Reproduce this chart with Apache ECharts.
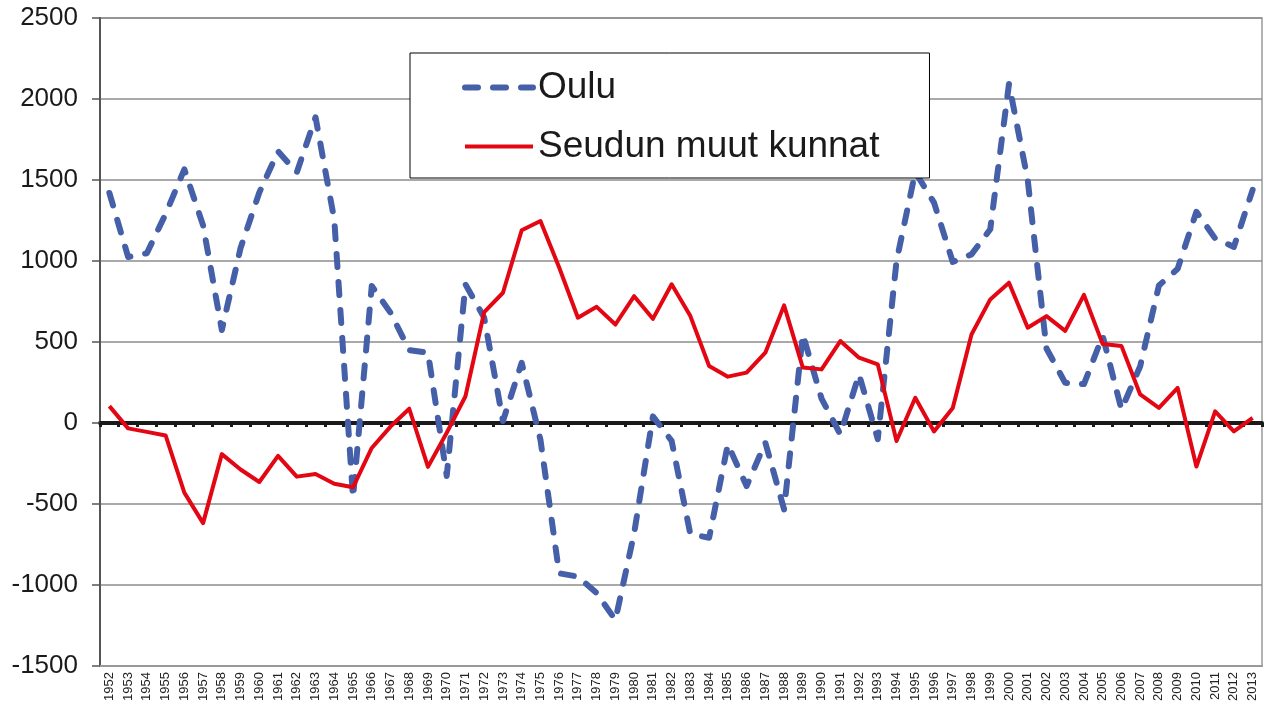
<!DOCTYPE html>
<html style="height: 100%">
<head>
    <meta charset="UTF-8">
    <title>Oulu ja seudun muut kunnat</title>
    <script src="https://cdn.jsdelivr.net/npm/echarts@6/dist/echarts.min.js"></script>
</head>
<body style="height: 100%; margin: 0; background: #fff">
    <div id="main" style="width: 1270px; height: 715px;"></div>
    <script>
        // vuodet 1952-2013
        var years = [];
        for (var y = 1952; y <= 2013; y++) years.push(String(y));

        var oulu = [
            1420, 1025, 1048, 1290, 1566, 1220, 574, 1080, 1423, 1677,
            1547, 1887, 1255, -461, 846, 681, 450, 434, -327, 856,
            650, 12, 372, -103, -928, -948, -1050, -1216, -680, 41,
            -110, -687, -708, -132, -389, -121, -533, 547, 150, -70,
            300, -100, 1000, 1550, 1360, 994, 1041, 1196, 2093, 1500,
            460, 248, 240, 538, 83, 350, 849, 952, 1304, 1139,
            1087, 1439
        ];
        var muut = [
            104, -33, -55, -77, -430, -618, -192, -287, -364, -203,
            -331, -315, -375, -397, -154, -22, 88, -271, -60, 165,
            685, 804, 1190, 1247, 960, 650, 717, 608, 783, 643,
            856, 660, 352, 286, 311, 434, 726, 342, 331, 506,
            403, 362, -111, 156, -52, 93, 546, 763, 866, 588,
            660, 569, 791, 487, 476, 176, 93, 217, -269, 72,
            -52, 31
        ];

        var blue = '#4560a8';
        var red = '#e30613';
        var dash = [13, 15];

        var myChart = echarts.init(document.getElementById('main'));

        var option = {
            animation: false,
            textStyle: { fontFamily: 'Liberation Sans, Arial, sans-serif' },
            legend: {
                orient: 'vertical',
                left: 410,
                top: 53,
                padding: [16, 50, 13, 52],
                itemGap: 22,
                itemWidth: 68,
                itemHeight: 14,
                backgroundColor: '#fff',
                borderColor: '#000',
                borderWidth: 1,
                borderRadius: 0,
                textStyle: { fontSize: 37, color: '#1a1a1a' },
                data: [
                    {
                        name: 'Oulu',
                        itemStyle: { opacity: 0 },
                        lineStyle: { color: blue, width: 6, type: dash, cap: 'round' }
                    },
                    {
                        name: 'Seudun muut kunnat',
                        itemStyle: { opacity: 0 },
                        lineStyle: { color: red, width: 4 }
                    }
                ]
            },
            grid: {
                left: 100,
                right: 8,
                top: 18,
                bottom: 49,
                show: true,
                borderColor: '#999',
                borderWidth: 1.5
            },
            xAxis: [
                {
                    type: 'category',
                    data: years,
                    boundaryGap: true,
                    axisLine: { onZero: false, lineStyle: { color: '#999', width: 2 } },
                    axisTick: { show: false },
                    axisLabel: {
                        rotate: 90,
                        interval: 0,
                        fontSize: 13,
                        color: '#222',
                        margin: 6
                    }
                },
                {
                    // nollaviiva
                    type: 'category',
                    data: years,
                    position: 'bottom',
                    boundaryGap: true,
                    axisLine: { onZero: true, lineStyle: { color: '#1a1a1a', width: 4 } },
                    axisTick: { show: true, interval: 0, length: 4, lineStyle: { color: '#1a1a1a', width: 3 } },
                    axisLabel: { show: false },
                    splitLine: { show: false }
                }
            ],
            yAxis: {
                type: 'value',
                min: -1500,
                max: 2500,
                interval: 500,
                axisLine: { show: true, lineStyle: { color: '#555', width: 2 } },
                axisTick: { show: true, length: 8, lineStyle: { color: '#555', width: 1.5 } },
                axisLabel: {
                    fontSize: 26,
                    color: '#1a1a1a',
                    margin: 22,
                    formatter: function (v) { return String(v); }
                },
                splitLine: { lineStyle: { color: '#8c8c8c', width: 1.5 } }
            },
            series: [
                {
                    name: 'Oulu',
                    type: 'line',
                    xAxisIndex: 0,
                    data: oulu,
                    symbol: 'none',
                    z: 3,
                    itemStyle: { color: blue },
                    lineStyle: { color: blue, width: 6, type: dash, cap: 'round', join: 'round' }
                },
                {
                    name: 'Seudun muut kunnat',
                    type: 'line',
                    xAxisIndex: 0,
                    data: muut,
                    symbol: 'none',
                    z: 4,
                    itemStyle: { color: red },
                    lineStyle: { color: red, width: 4, join: 'round' }
                }
            ]
        };

        myChart.setOption(option);
    </script>
</body>
</html>
